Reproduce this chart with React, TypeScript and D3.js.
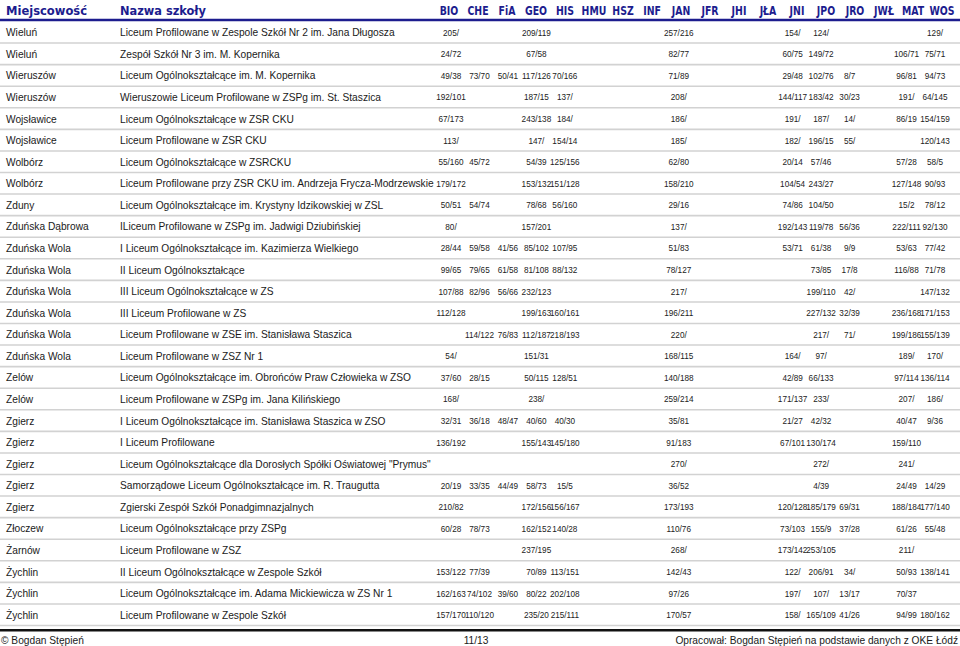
import React from "react";
import * as d3 from "d3";

const subjects = ["BIO","CHE","FiA","GEO","HIS","HMU","HSZ","INF","JAN","JFR","JHI","JŁA","JNI","JPO","JRO","JWŁ","MAT","WOS"];

const towns = [
  "Wieluń","Wieluń","Wieruszów","Wieruszów","Wojsławice","Wojsławice","Wolbórz","Wolbórz","Zduny",
  "Zduńska Dąbrowa","Zduńska Wola","Zduńska Wola","Zduńska Wola","Zduńska Wola","Zduńska Wola","Zduńska Wola",
  "Zelów","Zelów","Zgierz","Zgierz","Zgierz","Zgierz","Zgierz","Złoczew","Żarnów","Żychlin","Żychlin","Żychlin"
];

const schools = [
  "Liceum Profilowane w Zespole Szkół Nr 2 im. Jana Długosza",
  "Zespół Szkół Nr 3 im. M. Kopernika",
  "Liceum Ogólnokształcące im. M. Kopernika",
  "Wieruszowie Liceum Profilowane w ZSPg im. St. Staszica",
  "Liceum Ogólnokształcące w ZSR CKU",
  "Liceum Profilowane w ZSR CKU",
  "Liceum Ogólnokształcące w ZSRCKU",
  "Liceum Profilowane przy ZSR CKU im. Andrzeja Frycza-Modrzewskie",
  "Liceum Ogólnokształcące im. Krystyny Idzikowskiej w ZSL",
  "ILiceum Profilowane w ZSPg im. Jadwigi Dziubińskiej",
  "I Liceum Ogólnokształcące im. Kazimierza Wielkiego",
  "II Liceum Ogólnokształcące",
  "III Liceum Ogólnokształcące w ZS",
  "III Liceum Profilowane w ZS",
  "Liceum Profilowane w ZSE im. Stanisława Staszica",
  "Liceum Profilowane w ZSZ Nr 1",
  "Liceum Ogólnokształcące im. Obrońców Praw Człowieka w ZSO",
  "Liceum Profilowane w ZSPg im. Jana Kilińskiego",
  "I Liceum Ogólnokształcące im. Stanisława Staszica w ZSO",
  "I Liceum Profilowane",
  "Liceum Ogólnokształcące dla Dorosłych Spółki Oświatowej \"Prymus\"",
  "Samorządowe Liceum Ogólnokształcące im. R. Traugutta",
  "Zgierski Zespół Szkół Ponadgimnazjalnych",
  "Liceum Ogólnokształcące przy ZSPg",
  "Liceum Profilowane w ZSZ",
  "II Liceum Ogólnokształcące w Zespole Szkół",
  "Liceum Ogólnokształcące im. Adama Mickiewicza w ZS Nr 1",
  "Liceum Profilowane w Zespole Szkół"
];

// columns: BIO CHE FiA GEO HIS HMU HSZ INF JAN JFR JHI JŁA JNI JPO JRO JWŁ MAT WOS
const scores = [
  ["205/","","","209/119","","","","","257/216","","","","154/","124/","","","","129/"],
  ["24/72","","","67/58","","","","","82/77","","","","60/75","149/72","","","106/71","75/71"],
  ["49/38","73/70","50/41","117/126","70/166","","","","71/89","","","","29/48","102/76","8/7","","96/81","94/73"],
  ["192/101","","","187/15","137/","","","","208/","","","","144/117","183/42","30/23","","191/","64/145"],
  ["67/173","","","243/138","184/","","","","186/","","","","191/","187/","14/","","86/19","154/159"],
  ["113/","","","147/","154/14","","","","185/","","","","182/","196/15","55/","","","120/143"],
  ["55/160","45/72","","54/39","125/156","","","","62/80","","","","20/14","57/46","","","57/28","58/5"],
  ["179/172","","","153/132","151/128","","","","158/210","","","","104/54","243/27","","","127/148","90/93"],
  ["50/51","54/74","","78/68","56/160","","","","29/16","","","","74/86","104/50","","","15/2","78/12"],
  ["80/","","","157/201","","","","","137/","","","","192/143","119/78","56/36","","222/111","92/130"],
  ["28/44","59/58","41/56","85/102","107/95","","","","51/83","","","","53/71","61/38","9/9","","53/63","77/42"],
  ["99/65","79/65","61/58","81/108","88/132","","","","78/127","","","","","73/85","17/8","","116/88","71/78"],
  ["107/88","82/96","56/66","232/123","","","","","217/","","","","","199/110","42/","","","147/132"],
  ["112/128","","","199/163","160/161","","","","196/211","","","","","227/132","32/39","","236/168","171/153"],
  ["","114/122","76/83","112/187","218/193","","","","220/","","","","","217/","71/","","199/186","155/139"],
  ["54/","","","151/31","","","","","168/115","","","","164/","97/","","","189/","170/"],
  ["37/60","28/15","","50/115","128/51","","","","140/188","","","","42/89","66/133","","","97/114","136/114"],
  ["168/","","","238/","","","","","259/214","","","","171/137","233/","","","207/","186/"],
  ["32/31","36/18","48/47","40/60","40/30","","","","35/81","","","","21/27","42/32","","","40/47","9/36"],
  ["136/192","","","155/143","145/180","","","","91/183","","","","67/101","130/174","","","159/110",""],
  ["","","","","","","","","270/","","","","","272/","","","241/",""],
  ["20/19","33/35","44/49","58/73","15/5","","","","36/52","","","","","4/39","","","24/49","14/29"],
  ["210/82","","","172/156","156/167","","","","173/193","","","","120/128","185/179","69/31","","188/184","177/140"],
  ["60/28","78/73","","162/152","140/28","","","","110/76","","","","73/103","155/9","37/28","","61/26","55/48"],
  ["","","","237/195","","","","","268/","","","","173/142","253/105","","","211/",""],
  ["153/122","77/39","","70/89","113/151","","","","142/43","","","","122/","206/91","34/","","50/93","138/141"],
  ["162/163","74/102","39/60","80/22","202/108","","","","97/26","","","","197/","107/","13/17","","70/37",""],
  ["157/170","110/120","","235/20","215/111","","","","170/57","","","","158/","165/109","41/26","","94/99","180/162"]
];

const headerTitles = ["Miejscowość", "Nazwa szkoły"];
const footerTexts = ["© Bogdan Stępień", "11/13", "Opracował: Bogdan Stępień na podstawie danych z OKE Łódź"];

const W = 960, H = 646;
const NAVY = "#1c1c8e";
const SANS = "'Liberation Sans', Arial, sans-serif";
const HEAD = "'DejaVu Sans Condensed', 'DejaVu Sans', sans-serif";

export default function App() {
  const rowIdx = d3.range(towns.length);
  const y = d3.scaleBand<number>().domain(rowIdx).range([22, 626]).padding(0);
  const xHead = d3.scalePoint<string>().domain(subjects).range([449, 942]);
  const xData = d3.scalePoint<string>().domain(subjects).range([451, 935]);

  return (
    <svg width={W} height={H} style={{ position: "absolute", left: 0, top: 0, background: "#fff" }}>
      <rect x={0} y={0} width={W} height={H} fill="#fff" />
      {/* header */}
      <text x={6} y={14.5} fill={NAVY} fontFamily={HEAD} fontWeight="bold" fontSize={12.4}
        textLength={81} lengthAdjust="spacingAndGlyphs">{headerTitles[0]}</text>
      <text x={120} y={14.5} fill={NAVY} fontFamily={HEAD} fontWeight="bold" fontSize={12.4}
        textLength={86} lengthAdjust="spacingAndGlyphs">{headerTitles[1]}</text>
      {subjects.map((s) => (
        <g key={s} transform={`translate(${xHead(s)},14.5) scale(0.84,1)`}>
          <text x={0} y={0} fill={NAVY} fontFamily={HEAD} fontWeight="bold"
            fontSize={12.4} textAnchor="middle">{s}</text>
        </g>
      ))}
      <line x1={0} x2={W} y1={20} y2={20} stroke={NAVY} strokeWidth={2.5} />

      {/* rows */}
      {rowIdx.map((i) => {
        const top = y(i)!;
        const bw = y.bandwidth();
        const cy = top + bw / 2;
        return (
          <g key={i}>
            <line x1={0} x2={W} y1={top + bw - 0.5} y2={top + bw - 0.5} stroke="#d2d2d2" strokeWidth={1.6} />
            <text x={6} y={cy} dy="0.35em" fontFamily={SANS} fontSize={10.2} fill="#1a1a1a">{towns[i]}</text>
            <text x={120} y={cy} dy="0.35em" fontFamily={SANS} fontSize={10.2} fill="#1a1a1a">{schools[i]}</text>
            {scores[i].map((v, j) =>
              v ? (
                <text key={j} x={xData(subjects[j])} y={cy} dy="0.35em" textAnchor="middle"
                  fontFamily={SANS} fontSize={8.2} fill="#222">{v}</text>
              ) : null
            )}
          </g>
        );
      })}

      {/* footer */}
      <line x1={0} x2={W} y1={630.3} y2={630.3} stroke="#111" strokeWidth={2.6} />
      <text x={1} y={640} dy="0.35em" fontFamily={SANS} fontSize={10.2} fill="#1a1a1a">{footerTexts[0]}</text>
      <text x={476} y={640} dy="0.35em" textAnchor="middle" fontFamily={SANS} fontSize={10.2} fill="#1a1a1a">{footerTexts[1]}</text>
      <text x={958} y={640} dy="0.35em" textAnchor="end" fontFamily={SANS} fontSize={10.2} fill="#1a1a1a">{footerTexts[2]}</text>
    </svg>
  );
}
